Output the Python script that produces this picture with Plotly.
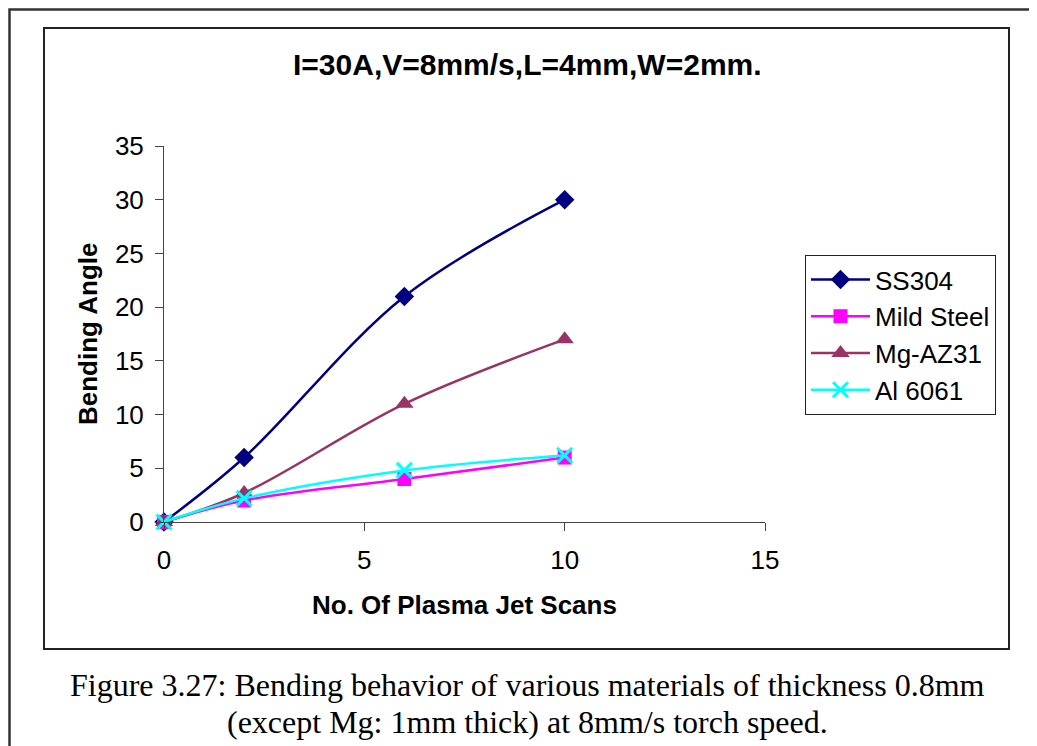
import plotly.graph_objects as go

# ---------------- data ----------------
scans = [0, 2, 6, 10]
ss304 = [0, 6, 21, 30]
mild_steel = [0, 2, 4, 6]
mg_az31 = [0, 2.7, 11, 17]
al_6061 = [0, 2.2, 4.8, 6.2]

series_names = ["SS304", "Mild Steel", "Mg-AZ31", "Al 6061"]
series_values = [ss304, mild_steel, mg_az31, al_6061]
series_colors = ["#000080", "#FF00FF", "#993366", "#00FFFF"]
series_symbols = ["diamond", "square", "triangle-up", "x-thin-open"]
series_sizes = [15, 14, 16, 15]

title_text = "I=30A,V=8mm/s,L=4mm,W=2mm."
x_title = "No. Of Plasma Jet Scans"
y_title = "Bending Angle"
caption_1 = "Figure 3.27: Bending behavior of various materials of thickness 0.8mm"
caption_2 = "(except Mg: 1mm thick) at 8mm/s torch speed."

# ---------------- layout geometry (pixels in the screenshot) ----------------
W, H = 1037, 746
OFF = 8  # page body margin
PL, PR, PT, PB = 164, 765, 146, 522  # plot area edges in screenshot pixels


def px(xp):
    return (xp - PL) / (PR - PL)


def py(yp):
    return (PB - yp) / (PB - PT)


SANS = "Liberation Sans, Arial, sans-serif"
SERIF = "Liberation Serif, Times New Roman, serif"

fig = go.Figure()
for name, vals, col, sym, sz in zip(series_names, series_values, series_colors,
                                     series_symbols, series_sizes):
    marker = dict(symbol=sym, size=sz, color=col)
    if sym.startswith("x-thin"):
        marker["line"] = dict(color=col, width=3)
    fig.add_trace(go.Scatter(
        x=scans, y=vals, name=name, mode="lines+markers",
        line=dict(color=col, width=2.5, shape="spline", smoothing=1.0),
        marker=marker, cliponaxis=False,
    ))

fig.update_layout(
    width=W, height=H,
    margin=dict(l=PL - OFF, r=W - PR + OFF, t=PT - OFF, b=H - PB + OFF, pad=0),
    paper_bgcolor="white", plot_bgcolor="white",
    font=dict(family=SANS, size=26, color="black"),
    showlegend=True,
    legend=dict(
        x=px(805), y=py(255), xanchor="left", yanchor="top",
        bordercolor="#222222", borderwidth=1, bgcolor="white",
        font=dict(family=SANS, size=26, color="black"),
        tracegroupgap=0, itemwidth=59,
    ),
    xaxis=dict(
        range=[0, 15], tickvals=[0, 5, 10, 15], showgrid=False, zeroline=False,
        showline=True, linecolor="#444444", linewidth=1,
        ticks="outside", ticklen=8, tickcolor="#444444", tickwidth=1,
        ticklabelstandoff=7,
        tickfont=dict(family=SANS, size=26, color="black"),
        fixedrange=True,
    ),
    yaxis=dict(
        range=[0, 35], tickvals=[0, 5, 10, 15, 20, 25, 30, 35], showgrid=False,
        zeroline=False, showline=True, linecolor="#444444", linewidth=1,
        ticks="outside", ticklen=8, tickcolor="#444444", tickwidth=1,
        ticklabelstandoff=6,
        tickfont=dict(family=SANS, size=26, color="black"),
        fixedrange=True,
    ),
)

annotations = [
    dict(text="<b>" + title_text + "</b>", x=px(527), y=py(64), xref="paper", yref="paper",
         showarrow=False, xanchor="center", yanchor="middle",
         font=dict(family=SANS, size=30, color="black")),
    dict(text="<b>" + x_title + "</b>", x=px(464.5), y=py(605), xref="paper", yref="paper",
         showarrow=False, xanchor="center", yanchor="middle",
         font=dict(family=SANS, size=26, color="black")),
    dict(text="<b>" + y_title + "</b>", x=px(88), y=py(334), xref="paper", yref="paper",
         showarrow=False, xanchor="center", yanchor="middle", textangle=-90,
         font=dict(family=SANS, size=26, color="black")),
    dict(text=caption_1, x=px(527), y=py(685), xref="paper", yref="paper",
         showarrow=False, xanchor="center", yanchor="middle",
         font=dict(family=SERIF, size=32, color="black")),
    dict(text=caption_2, x=px(527), y=py(722), xref="paper", yref="paper",
         showarrow=False, xanchor="center", yanchor="middle",
         font=dict(family=SERIF, size=32, color="black")),
]
fig.update_layout(annotations=annotations)

shapes = [
    dict(type="rect", xref="paper", yref="paper", x0=px(9.5), x1=px(1060), y0=py(9.5), y1=py(770),
         line=dict(color="#333333", width=2.5), fillcolor="rgba(0,0,0,0)", layer="below"),
    dict(type="rect", xref="paper", yref="paper", x0=px(44), x1=px(1009), y0=py(28), y1=py(649),
         line=dict(color="#222222", width=2), fillcolor="rgba(0,0,0,0)", layer="below"),
]
fig.update_layout(shapes=shapes)

fig.write_html("out.html", config={"displayModeBar": False})
